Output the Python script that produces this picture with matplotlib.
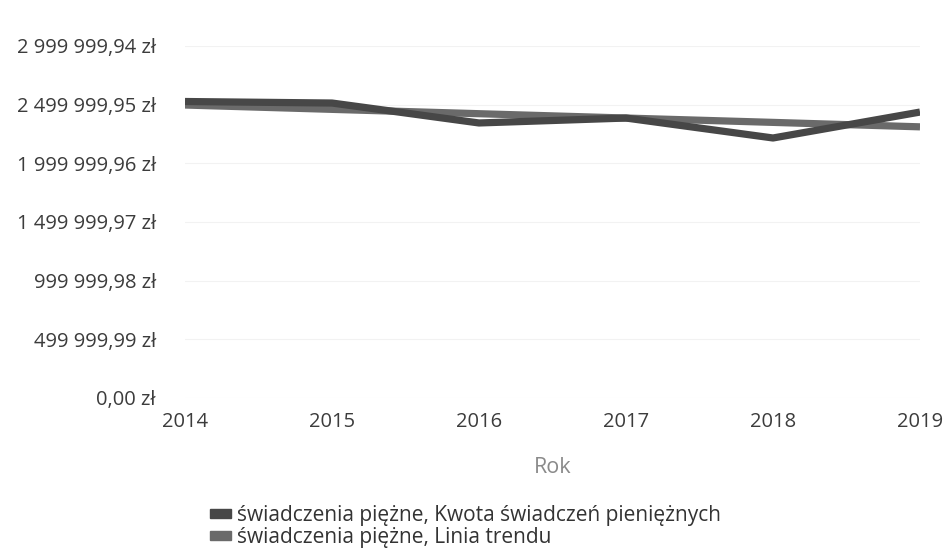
import matplotlib
matplotlib.use('Agg')
import matplotlib.pyplot as plt
import matplotlib.patches as mpatches
from matplotlib.ticker import FuncFormatter, FixedLocator
import numpy as np

# values
years = [2014, 2015, 2016, 2017, 2018, 2019]
kwota = [2527000, 2514000, 2344000, 2386000, 2216000, 2437000]
trend = [2497000, 2460000, 2423000, 2386000, 2349000, 2311000]
y_ticks = [0.00, 499999.99, 999999.98, 1499999.97, 1999999.96, 2499999.95, 2999999.94]

labels = ['świadczenia piężne, Kwota świadczeń pieniężnych',
          'świadczenia piężne, Linia trendu']
colors = ['#474747', '#6a6a6a']

plt.rcParams['font.family'] = ['Open Sans', 'DejaVu Sans']

def zl(v, pos=None):
    s = '{:,.2f}'.format(v)
    s = s.replace(',', ' ').replace('.', ',')
    return s + ' zł'

fig = plt.figure(figsize=(9.49, 5.49), dpi=100)
ax = fig.add_axes([185/949, 1-398/549, (920-185)/949, (398-46)/549])

ax.plot(years, kwota, color=colors[0], lw=5.2, solid_capstyle='butt', zorder=3)
ax.plot(years, trend, color=colors[1], lw=5.2, solid_capstyle='butt', zorder=2)

ax.set_xlim(2014, 2019)
ax.set_ylim(0, 2999999.94)
ax.xaxis.set_major_locator(FixedLocator(years))
ax.yaxis.set_major_locator(FixedLocator(y_ticks))
ax.yaxis.set_major_formatter(FuncFormatter(zl))
ax.grid(axis='y', color='#f2f2f2', lw=0.8)
for sp in ax.spines.values():
    sp.set_visible(False)
ax.tick_params(length=0, labelcolor='#3c3c3c')
ax.tick_params(axis='y', pad=21, labelsize=14.5)
ax.tick_params(axis='x', pad=10, labelsize=14.5)
ax.set_xlabel('Rok', fontsize=15.5, color='#8a8a8a', labelpad=18)

handles = [mpatches.Patch(color=c) for c in colors]
fig.legend(handles, labels, loc='upper left', bbox_to_anchor=(210/949, 1-505/549),
           frameon=False, fontsize=15, handlelength=1.0, handleheight=0.35,
           handletextpad=0.3, labelspacing=0.05, labelcolor='#333333',
           borderaxespad=0, borderpad=0)

fig.savefig('out.png', dpi=100)
